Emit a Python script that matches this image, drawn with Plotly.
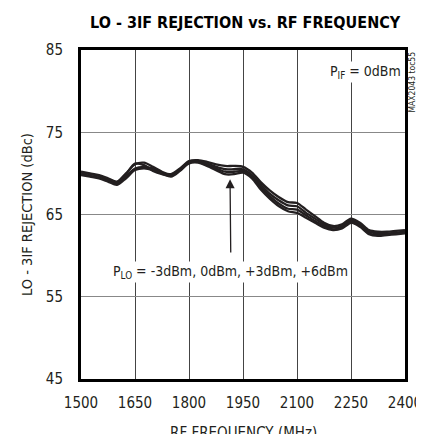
import plotly.graph_objects as go

# RF frequency (MHz)
freq = [1500, 1525, 1550, 1575, 1600, 1625, 1650, 1675, 1700, 1725, 1750, 1775,
        1800, 1825, 1850, 1875, 1900, 1925, 1950, 1975, 2000, 2025, 2050, 2075,
        2100, 2125, 2150, 2175, 2200, 2225, 2250, 2275, 2300, 2325, 2350, 2375, 2400]

# LO - 3IF rejection (dBc) for each LO power
rej_m3 = [70.2, 70.0, 69.8, 69.4, 69.0, 70.0, 71.1, 71.3, 70.8, 70.2, 69.9, 70.6,
          71.5, 71.6, 71.4, 71.1, 70.9, 70.9, 70.8, 70.1, 68.9, 67.9, 67.1, 66.5,
          66.4, 65.6, 64.8, 64.0, 63.6, 63.8, 64.5, 64.0, 63.1, 62.9, 62.9, 63.0, 63.1]
rej_0 = [70.1, 69.9, 69.7, 69.3, 68.9, 69.9, 71.2, 71.0, 70.3, 69.9, 69.7, 70.5,
         71.4, 71.5, 71.2, 70.8, 70.5, 70.5, 70.5, 69.8, 68.6, 67.5, 66.7, 66.1,
         66.0, 65.2, 64.5, 63.8, 63.4, 63.6, 64.3, 63.8, 62.9, 62.7, 62.7, 62.8, 62.9]
rej_p3 = [69.9, 69.7, 69.5, 69.1, 68.7, 69.6, 70.6, 70.8, 70.6, 70.1, 69.7, 70.4,
          71.3, 71.4, 71.0, 70.6, 70.2, 70.2, 70.3, 69.6, 68.3, 67.2, 66.3, 65.7,
          65.6, 64.9, 64.2, 63.6, 63.2, 63.4, 64.1, 63.6, 62.7, 62.5, 62.6, 62.7, 62.8]
rej_p6 = [69.8, 69.6, 69.4, 69.0, 68.6, 69.4, 70.4, 70.6, 70.4, 70.0, 69.6, 70.3,
          71.2, 71.3, 70.9, 70.4, 69.9, 69.9, 70.1, 69.4, 68.0, 66.9, 66.0, 65.4,
          65.2, 64.6, 64.0, 63.4, 63.1, 63.3, 64.0, 63.5, 62.6, 62.4, 62.5, 62.6, 62.7]

x_ticks = [1500, 1650, 1800, 1950, 2100, 2250, 2400]
y_ticks = [45, 55, 65, 75, 85]

FONT = 'Liberation Sans Narrow, DejaVu Sans Condensed, sans-serif'
INK = '#231f20'

fig = go.Figure()
for name, ys in [('-3dBm', rej_m3), ('0dBm', rej_0), ('+3dBm', rej_p3), ('+6dBm', rej_p6)]:
    fig.add_trace(go.Scatter(
        x=freq, y=ys, mode='lines', name=name,
        line=dict(color=INK, width=2.3, shape='spline', smoothing=0.8),
        showlegend=False,
    ))

# 설명 텍스트
fig.add_annotation(x=1914, y=58.0, xref='x', yref='y', showarrow=False,
                   text='P<sub>LO</sub> = -3dBm, 0dBm, +3dBm, +6dBm',
                   font=dict(family=FONT, size=14, color=INK), bgcolor='white')
fig.add_annotation(x=2289, y=82.3, xref='x', yref='y', showarrow=False,
                   text='P<sub>IF</sub> = 0dBm',
                   font=dict(family=FONT, size=14, color=INK), bgcolor='white')
# 화살표
fig.add_annotation(x=1914, y=69.3, ax=1916, ay=60.2, xref='x', yref='y',
                   axref='x', ayref='y', text='', showarrow=True,
                   arrowhead=2, arrowsize=1.4, arrowwidth=1.3, arrowcolor=INK)
# 차트 번호
fig.add_annotation(x=1.0, y=1.0, xref='paper', yref='paper', xanchor='center', yanchor='top',
                   xshift=6, text='MAX2043 toc55', textangle=-90, showarrow=False,
                   font=dict(family=FONT, size=8.5, color=INK))
# x축 제목 (margin 밖으로 내리기 위해 annotation 사용)
fig.add_annotation(x=0.5, y=0, xref='paper', yref='paper', xanchor='center', yanchor='top',
                   yshift=-43, text='RF FREQUENCY (MHz)', showarrow=False,
                   font=dict(family=FONT, size=15, color=INK))

# 페이지 body margin(8px) 보정
fig.update_layout(
    width=416, height=426,
    margin=dict(l=73, r=19, t=42, b=55),
    paper_bgcolor='white', plot_bgcolor='white',
    title=dict(text='<b>LO - 3IF REJECTION vs. RF FREQUENCY</b>',
               x=0.57, xanchor='center', y=0.967, yanchor='middle',
               font=dict(family=FONT, size=16, color='black')),
    font=dict(family=FONT, size=15, color=INK),
)
fig.update_xaxes(range=[1500, 2400], tickvals=x_ticks, showgrid=True,
                 gridcolor='#444', gridwidth=1, zeroline=False,
                 showline=True, linecolor='black', linewidth=3, mirror=True,
                 ticks='', ticklabelstandoff=8, ticklabeloverflow='allow',
                 automargin=False)
fig.update_yaxes(range=[45, 85], tickvals=y_ticks, showgrid=True,
                 gridcolor='#888', gridwidth=1.2, zeroline=False,
                 showline=True, linecolor='black', linewidth=3, mirror=True,
                 ticks='', ticklabelstandoff=12,
                 title=dict(text='LO - 3IF REJECTION (dBc)', font=dict(size=14.5), standoff=10),
                 automargin=False)

fig.write_html("out.html")
